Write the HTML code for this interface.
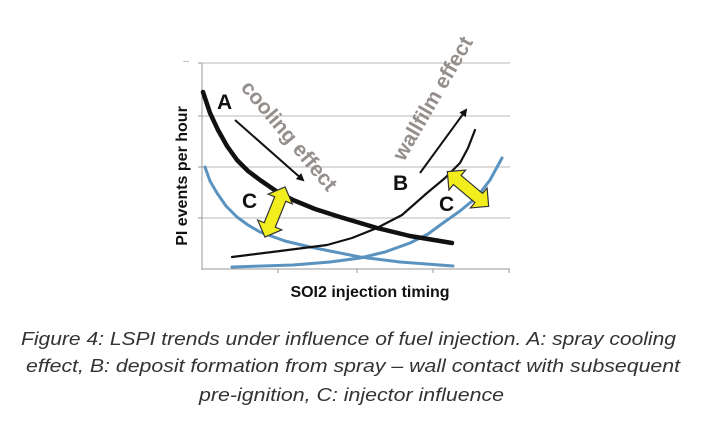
<!DOCTYPE html>
<html><head><meta charset="utf-8"><style>
html,body{margin:0;padding:0;background:#fff;}
svg{display:block;}
</style></head><body>
<svg width="720" height="423" viewBox="0 0 720 423" xmlns="http://www.w3.org/2000/svg" font-family="Liberation Sans, Arial, sans-serif">
<defs>
<marker id="ah" markerWidth="8" markerHeight="8" refX="6" refY="4" orient="auto" markerUnits="userSpaceOnUse" viewBox="0 0 8 8">
<path d="M0,0 L8,4 L0,8 z" fill="#111"/></marker>
</defs>
<rect width="720" height="423" fill="#fff"/>
<g stroke="#b8b8b8" stroke-width="1">
<line x1="202" y1="63" x2="510" y2="63"/>
<line x1="202" y1="116" x2="510" y2="116"/>
<line x1="202" y1="167" x2="510" y2="167"/>
<line x1="202" y1="218" x2="510" y2="218"/>
</g>
<g stroke="#999" stroke-width="1">
<line x1="202" y1="63" x2="202" y2="270"/>
<line x1="202" y1="269" x2="510" y2="269"/>
<line x1="198" y1="63" x2="202" y2="63"/><line x1="198" y1="116" x2="202" y2="116"/>
<line x1="198" y1="167" x2="202" y2="167"/><line x1="198" y1="218" x2="202" y2="218"/>
<line x1="278" y1="269" x2="278" y2="273"/><line x1="357" y1="269" x2="357" y2="273"/>
<line x1="433" y1="269" x2="433" y2="273"/><line x1="509" y1="269" x2="509" y2="273"/>
</g>
<text x="183" y="64" font-size="9" fill="#888">--</text>
<g fill="none" stroke-linejoin="round" stroke-linecap="round">
<polyline points="205,167 210,181 217,193 226,206 237,217 248,225 260,232 285,241 310,247 335,252 360,257 400,262 453,266" stroke="#5a93c0" stroke-width="3"/>
<polyline points="232,267 293,265 330,262 360,258 385,252 410,243 428,234 443,223 460,211 477,197 490,180 502,158" stroke="#5a93c0" stroke-width="3"/>
<polyline points="232,257 280,251 327,245 352,238 377,228 402,215 427,193 445,178 460,163 468,148 475,130" stroke="#111" stroke-width="2.2"/>
<polyline points="203,92 210,113 218,130 227,146 237,160 248,171 260,180 276,191 293,200 315,209 340,217 377,228 410,236 452,243" stroke="#111" stroke-width="4.5"/>
</g>
<line x1="235" y1="120" x2="303" y2="180" stroke="#111" stroke-width="2" marker-end="url(#ah)"/>
<line x1="420" y1="173" x2="466" y2="110" stroke="#111" stroke-width="2" marker-end="url(#ah)"/>
<g fill="#f2ee1e" stroke="#333" stroke-width="1.2" stroke-linejoin="miter">
<g transform="translate(275,212) rotate(112)">
<polygon points="-27,0 -14,-13 -14,-6 14,-6 14,-13 27,0 14,13 14,6 -14,6 -14,13"/>
</g>
<g transform="translate(468,189) rotate(40)">
<polygon points="-27,0 -14,-13 -14,-6 14,-6 14,-13 27,0 14,13 14,6 -14,6 -14,13"/>
</g>
</g>
<text transform="translate(240,88) rotate(50)" font-size="21" font-weight="bold" fill="#948f8c">cooling effect</text>
<text transform="translate(404,162) rotate(-60)" font-size="21" font-weight="bold" fill="#948f8c">wallfilm effect</text>
<g font-size="21" font-weight="bold" fill="#111">
<text x="217" y="109">A</text>
<text x="242" y="208">C</text>
<text x="393" y="190">B</text>
<text x="439" y="211">C</text>
</g>
<text transform="translate(187,176) rotate(-90)" text-anchor="middle" font-size="16" font-weight="bold" fill="#111">PI events per hour</text>
<text x="370" y="297" text-anchor="middle" font-size="16" font-weight="bold" fill="#111">SOI2 injection timing</text>
<g font-size="18" font-style="italic" fill="#333">
<text x="21" y="345" textLength="655" lengthAdjust="spacingAndGlyphs">Figure 4: LSPI trends under influence of fuel injection. A: spray cooling</text>
<text x="26" y="372" textLength="654" lengthAdjust="spacingAndGlyphs">effect, B: deposit formation from spray – wall contact with subsequent</text>
<text x="199" y="401" textLength="305" lengthAdjust="spacingAndGlyphs">pre-ignition, C: injector influence</text>
</g>
</svg>
</body></html>
